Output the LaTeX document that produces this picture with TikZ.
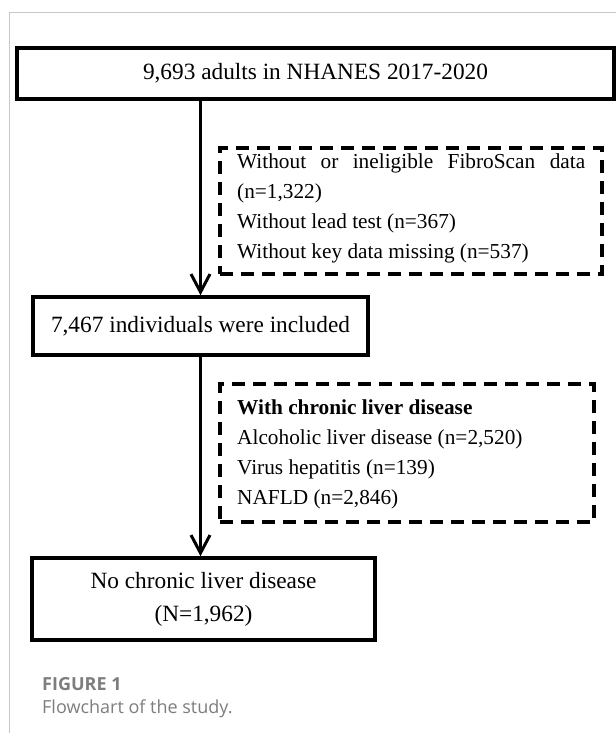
\documentclass[tikz,border=0pt]{standalone}
\usepackage{fontspec}
\setmainfont{Liberation Serif}
\newfontfamily\captionfont{Open Sans}
\usetikzlibrary{arrows.meta, positioning, calc}
\definecolor{framegray}{RGB}{200,200,200}
\definecolor{captiongray}{RGB}{125,125,125}
\tikzset{
    mainbox/.style={draw, rectangle, line width=3.5bp, inner sep=0pt, align=center,
      font=\fontsize{23.3bp}{33bp}\selectfont},
    dashbox/.style={draw, rectangle, line width=3.5bp, dash pattern=on 13bp off 8bp, inner sep=0pt},
    listtext/.style={anchor=west, inner sep=0pt, align=left,
      font=\fontsize{21.3bp}{30bp}\selectfont},
    flow/.style={line width=3bp, -{Straight Barb[length=18bp, width=19bp]}},
    captext/.style={anchor=base west, inner sep=0pt, text=captiongray},
}

\begin{document}
\begin{tikzpicture}[x=1bp, y=-1bp]
    \useasboundingbox (0,0) rectangle (616,738);
    \draw[framegray, line width=1bp] (616,13) -- (9.5,13) -- (9.5,733);

    % main boxes
    \node[mainbox, minimum width=597bp, minimum height=51bp] (total) at (315.5,73.5)
      {9,693 adults in NHANES 2017-2020};
    \node[mainbox, minimum width=335bp, minimum height=58bp] (included) at (200.5,326)
      {7,467 individuals were included};
    \node[mainbox, minimum width=343bp, minimum height=82bp] (nocld) at (203.5,599)
      {No chronic liver disease\\(N=1,962)};

    % exclusions
    \node[dashbox, minimum width=382bp, minimum height=126bp] (excluded) at (411,211) {};
    \node[listtext] (excludedtext) at (237,208)
      {\makebox[348bp][s]{Without or ineligible FibroScan data}\\(n=1,322)\\
       Without lead test (n=367)\\Without key data missing (n=537)};

    \node[dashbox, minimum width=374bp, minimum height=138bp] (cld) at (407,453) {};
    \node[listtext] (cldtext) at (237,454)
      {\textbf{With chronic liver disease}\\Alcoholic liver disease (n=2,520)\\
       Virus hepatitis (n=139)\\NAFLD (n=2,846)};

    \draw[flow] (total.south -| included.north) -- (included.north);
    \draw[flow] (included.south) -- (nocld.north -| included.south);

    % caption
    \node[captext, font=\captionfont\bfseries\fontsize{18bp}{22bp}\selectfont] (figlabel) at (42,690) {FIGURE 1};
    \node[captext, font=\captionfont\fontsize{18bp}{22bp}\selectfont] (figcaption) at (42,713) {Flowchart of the study.};
\end{tikzpicture}
\end{document}
